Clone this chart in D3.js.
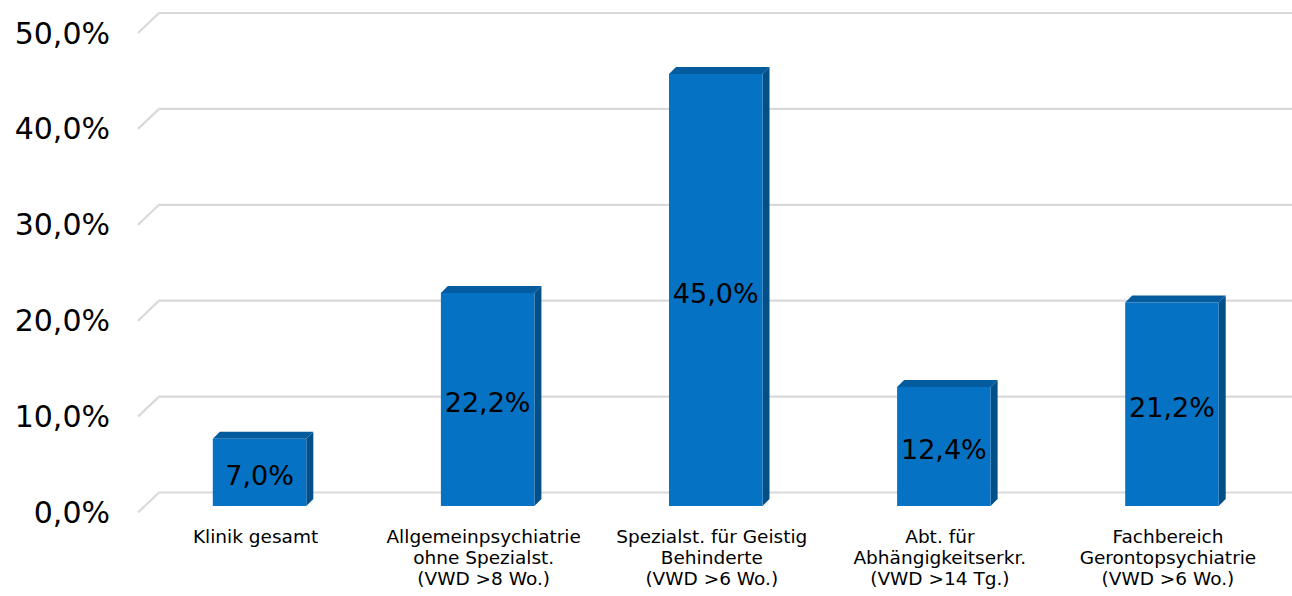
<!DOCTYPE html>
<html lang="de">
<head>
<meta charset="utf-8">
<script src="https://cdn.jsdelivr.net/npm/d3@7"></script>
<style>
  html, body { margin: 0; padding: 0; background: #fff; }
  svg { display: block; }
  text { font-family: "DejaVu Sans", Verdana, sans-serif; fill: #000; }
</style>
</head>
<body>
<svg id="chart" width="1292" height="596"></svg>
<script>
// Anteil Langlieger je Bereich
const categories = [
  ["Klinik gesamt"],
  ["Allgemeinpsychiatrie", "ohne Spezialst.", "(VWD >8 Wo.)"],
  ["Spezialst. für Geistig", "Behinderte", "(VWD >6 Wo.)"],
  ["Abt. für", "Abhängigkeitserkr.", "(VWD >14 Tg.)"],
  ["Fachbereich", "Gerontopsychiatrie", "(VWD >6 Wo.)"]
];
const values = [7.0, 22.2, 45.0, 12.4, 21.2];
const yTicks = [0, 10, 20, 30, 40, 50];

const de = d3.formatLocale({ decimal: ",", thousands: ".", grouping: [3], currency: ["", " €"] });
const pct = v => de.format(".1f")(v) + "%";

const svg = d3.select("#chart");

// Plot geometry: back wall and floor depth of the 3D frame
const depthX = 21, depthY = 20;
const wallLeft = 159, wallRight = 1292;

// Back-wall value scale and bar front-face value scale
const yWall = d3.scaleLinear().domain([0, 50]).range([492.5, 13]);
const yBar = d3.scaleLinear().domain([0, 50]).range([506, 26]);

const x = d3.scaleBand()
  .domain(d3.range(values.length))
  .range([145.5, 1286])
  .paddingInner(0.59)
  .paddingOuter(0.295);

// Gridlines: floor diagonal + back wall horizontal
const grid = svg.append("g").attr("fill", "none").attr("stroke", "#d9d9d9").attr("stroke-width", 2.2);
grid.selectAll("path").data(yTicks).join("path")
  .attr("d", t => {
    const yb = yWall(t);
    return `M${wallLeft - depthX},${yb + depthY}L${wallLeft},${yb}L${wallRight},${yb}`;
  });

// Y tick labels
svg.append("g").selectAll("text").data(yTicks).join("text")
  .attr("x", 110)
  .attr("y", t => yWall(t) + depthY)
  .attr("text-anchor", "end")
  .attr("dominant-baseline", "central")
  .attr("font-size", 30)
  .text(pct);

// Bars with shallow 3D depth
const bd = 7;
const bars = svg.append("g").selectAll("g").data(values).join("g");
const bw = x.bandwidth();

bars.append("path") // side face
  .attr("fill", "#034f88")
  .attr("d", (v, i) => {
    const x1 = x(i) + bw, yt = yBar(v), yb = yBar(0);
    return `M${x1},${yt}L${x1 + bd},${yt - bd}L${x1 + bd},${yb - bd}L${x1},${yb}Z`;
  });
bars.append("path") // top face
  .attr("fill", "#045b9e")
  .attr("d", (v, i) => {
    const x0 = x(i), x1 = x(i) + bw, yt = yBar(v);
    return `M${x0},${yt}L${x0 + bd},${yt - bd}L${x1 + bd},${yt - bd}L${x1},${yt}Z`;
  });
bars.append("rect") // front face
  .attr("fill", "#0572c4")
  .attr("x", (v, i) => x(i))
  .attr("y", v => yBar(v))
  .attr("width", bw)
  .attr("height", v => yBar(0) - yBar(v));

// Value labels centred in each bar
bars.append("text")
  .attr("x", (v, i) => x(i) + bw / 2)
  .attr("y", v => (yBar(v) + yBar(0)) / 2 + 3)
  .attr("text-anchor", "middle")
  .attr("dominant-baseline", "central")
  .attr("font-size", 27)
  .text(pct);

// Category labels
const cat = svg.append("g").selectAll("text").data(categories).join("text")
  .attr("text-anchor", "middle")
  .attr("font-size", 18.5)
  .attr("transform", (c, i) => `translate(${x(i) + bw / 2 - 4},543)`);
cat.selectAll("tspan").data(c => c).join("tspan")
  .attr("x", 0)
  .attr("dy", (l, j) => j === 0 ? 0 : 21)
  .text(l => l);
</script>
</body>
</html>
